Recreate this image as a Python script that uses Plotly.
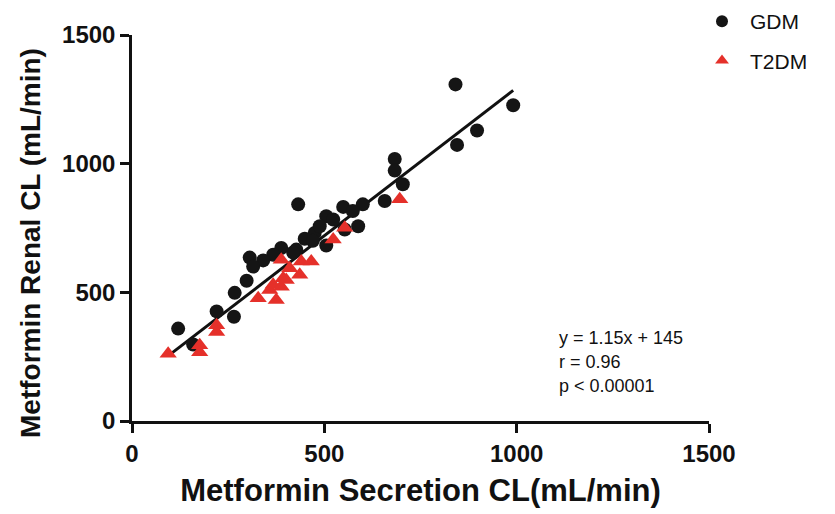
import plotly.graph_objects as go

gdm_x = [841, 991, 897, 845, 683, 683, 704, 657, 432, 600, 549, 574, 588, 553, 505, 523,
         505, 475, 488, 449, 427, 419, 388, 367, 341, 306, 315, 298, 267, 265, 220, 120, 159, 470]
gdm_y = [1308, 1227, 1129, 1073, 1018, 973, 920, 855, 842, 842, 832, 816, 757, 744, 796, 783,
         682, 731, 757, 708, 666, 655, 672, 646, 624, 635, 600, 545, 498, 405, 426, 359, 297, 700]

t2dm_x = [94, 176, 176, 220, 220, 328, 358, 375, 367, 388, 393, 401, 410, 388, 436, 440, 466, 523, 553, 696]
t2dm_y = [261, 294, 267, 372, 346, 477, 509, 470, 529, 522, 555, 548, 594, 627, 568, 620, 620, 705, 751, 862]

slope = 1.15
intercept = 145
stats_lines = ["y = 1.15x + 145", "r = 0.96", "p < 0.00001"]

x_ticks = [0, 500, 1000, 1500]
y_ticks = [0, 500, 1000, 1500]

all_x = gdm_x + t2dm_x
fit_x = [min(all_x), max(all_x)]
fit_y = [slope * v + intercept for v in fit_x]

FONT = "Liberation Sans, Arial"
INK = "#111111"

fig = go.Figure()
fig.add_trace(go.Scatter(x=fit_x, y=fit_y, mode="lines", line=dict(color=INK, width=3),
                         showlegend=False, hoverinfo="skip"))
fig.add_trace(go.Scatter(x=gdm_x, y=gdm_y, mode="markers", name="GDM", legendgroup="a",
                         marker=dict(symbol="circle", size=14, color="#151515")))
fig.add_trace(go.Scatter(x=t2dm_x, y=t2dm_y, mode="markers", name="T2DM", legendgroup="b",
                         marker=dict(symbol="triangle-up", size=15, color="#E5302A")))

axis_common = dict(showgrid=False, zeroline=False, showline=True, linecolor=INK, linewidth=2.5,
                   ticks="outside", ticklen=9, tickwidth=2.5, tickcolor=INK,
                   tickfont=dict(family=FONT, size=24, color=INK, weight="bold"))

fig.update_xaxes(range=[0, 1500], tickvals=x_ticks, ticktext=[str(v) for v in x_ticks],
                 title=dict(text="<b>Metformin Secretion CL(mL/min)</b>", standoff=14,
                            font=dict(family=FONT, size=31, color=INK)),
                 **axis_common)
fig.update_yaxes(range=[0, 1500], tickvals=y_ticks, ticktext=[str(v) for v in y_ticks],
                 **axis_common)

PL, PT, PW, PH = 132, 35, 577, 386
W, H = 835, 514

fig.add_annotation(xref="paper", yref="paper", x=(30 - PL) / PW, y=(PT + PH - 243) / PH,
                   text="<b>Metformin Renal CL (mL/min)</b>", textangle=-90, showarrow=False,
                   xanchor="center", yanchor="middle",
                   font=dict(family=FONT, size=28, color=INK))

for i, t in enumerate(stats_lines):
    fig.add_annotation(xref="paper", yref="paper", x=(557 - PL) / PW, y=(PT + PH - 338 - i * 24) / PH,
                       text=t, showarrow=False, xanchor="left", yanchor="middle",
                       font=dict(family=FONT, size=18, color=INK))

fig.update_layout(
    width=W, height=H,
    margin=dict(l=PL, r=W - PL - PW, t=PT, b=H - PT - PH, autoexpand=False),
    paper_bgcolor="white", plot_bgcolor="white",
    legend=dict(x=694 / W, y=1 - 1 / H, xanchor="left", yanchor="top",
                xref="container", yref="container",
                font=dict(family=FONT, size=21, color=INK),
                tracegroupgap=9, itemsizing="constant", itemwidth=46, bgcolor="rgba(0,0,0,0)"),
    showlegend=True,
)

fig.write_html("out.html")
